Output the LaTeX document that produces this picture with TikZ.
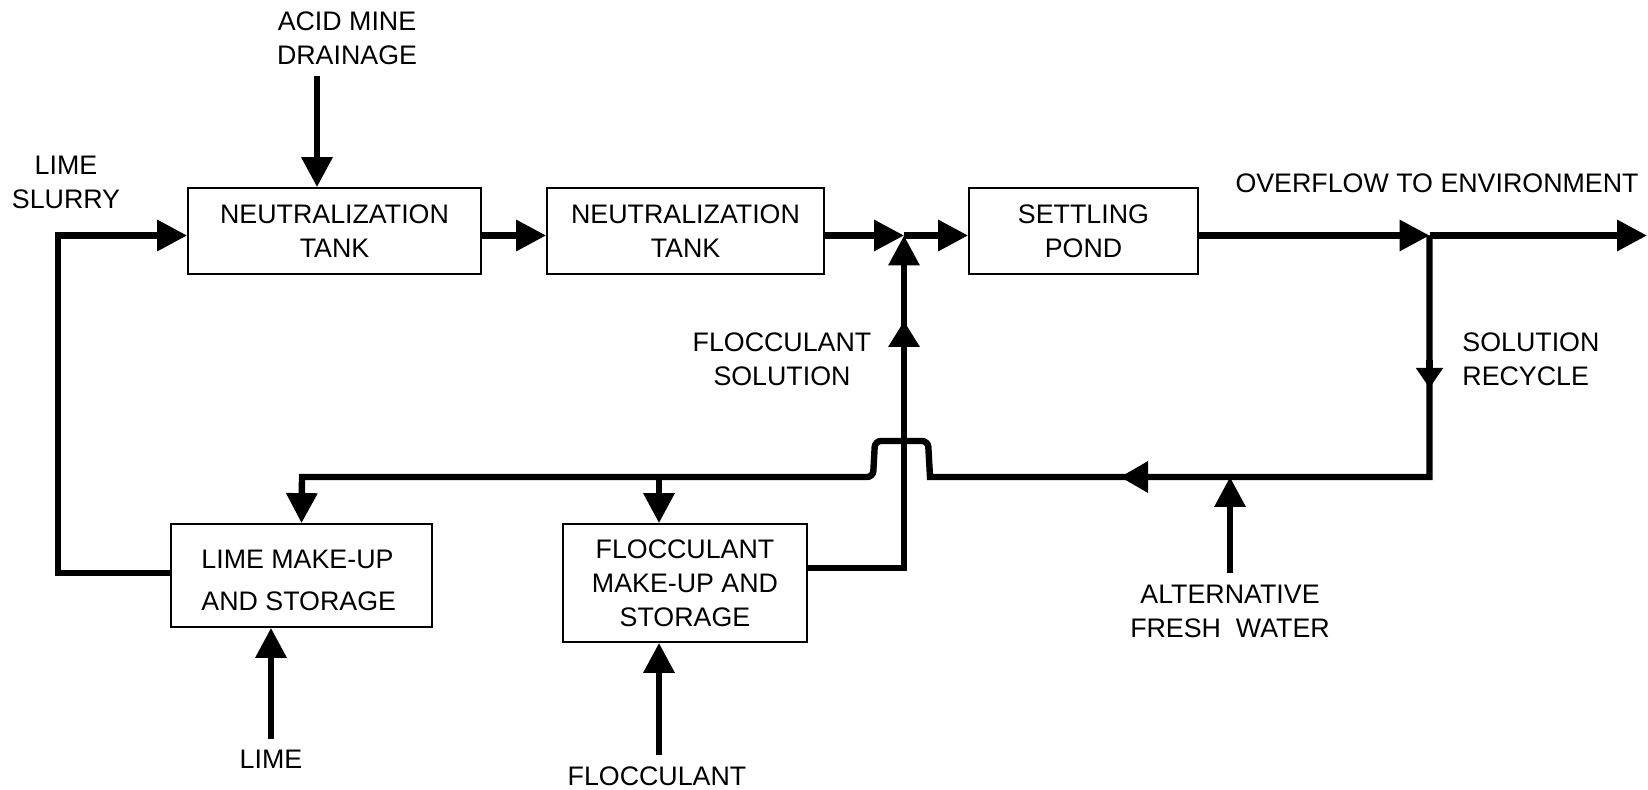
\documentclass[tikz,border=0pt]{standalone}
\usepackage{fontspec}
\setmainfont{Liberation Sans}
\usetikzlibrary{arrows.meta}
\begin{document}
\begin{tikzpicture}[x=0.5pt,y=-0.5pt,
  font=\fontsize{13.4pt}{17pt}\selectfont,
  box/.style={draw, line width=0.9pt, inner sep=0pt, align=center},
  flow/.style={line width=3.2pt},
  arr/.style={-{Triangle[length=15pt,width=15pt]}},
  midarr/.style={-{Triangle[length=13pt,width=15pt]}},
  lbl/.style={align=center, inner sep=0pt},
]
\useasboundingbox (0,0) rectangle (1648,790);

% boxes
\node[box, minimum width=146.5pt, minimum height=43pt] (NT1) at (334.5,231) {NEUTRALIZATION\\TANK};
\node[box, minimum width=138.5pt, minimum height=43pt] (NT2) at (685.5,231) {NEUTRALIZATION\\TANK};
\node[box, minimum width=114.5pt, minimum height=43pt] (Pond) at (1083.5,231) {SETTLING\\POND};
\node[box, minimum width=130.5pt, minimum height=51.5pt] (LMS) at (301.5,575.5) {};
\node[lbl, align=left, anchor=west] (LMStext) at (201,580) {LIME MAKE-UP\\[4pt]AND STORAGE};
\node[box, minimum width=122pt, minimum height=59pt] (FMS) at (685,583) {FLOCCULANT\\MAKE-UP AND\\STORAGE};

% labels
\node[lbl] (acid) at (347,38) {ACID MINE\\DRAINAGE};
\node[lbl] (slurry) at (66,182) {LIME\\SLURRY};
\node[lbl] (overflow) at (1437,183) {OVERFLOW TO ENVIRONMENT};
\node[lbl, align=left, anchor=west] (solrec) at (1462,359) {SOLUTION\\RECYCLE};
\node[lbl] (flocsol) at (782,359) {FLOCCULANT\\SOLUTION};
\node[lbl] (altfw) at (1230,611) {ALTERNATIVE\\FRESH\ \ WATER};
\node[lbl] (lime) at (271,759) {LIME};
\node[lbl] (floc) at (657,776) {FLOCCULANT};

% coordinates
\coordinate (J1) at (904,235.5);
\coordinate (J2) at (1429.5,235.5);
\coordinate (out) at (1647,235.5);
\coordinate (acidtail) at (317,76);
\coordinate (limetail) at (271,739);
\coordinate (floctail) at (659,755);
\coordinate (fwtail) at (1230,573);
\coordinate (B) at (1429.5,477);
\coordinate (Bl) at (302,477);
\coordinate (Bf) at (659,477);
\coordinate (Bw) at (1230,477);

% main flow
\draw[flow,arr] (acidtail) -- (acidtail |- NT1.north);
\draw[flow,arr] (LMS.west |- 0,573) -- (58,573) -- (58,235.5) -- (NT1.west |- J1);
\draw[flow,arr] (NT1.east |- J1) -- (NT2.west |- J1);
\draw[flow,arr] (NT2.east |- J1) -- (J1);
\draw[flow,arr] (J1) -- (Pond.west |- J1);
\draw[flow,arr] (Pond.east |- J1) -- (J2);
\draw[flow,arr] (J2) -- (out);

% recycle
\draw[flow,arr] (J2) -- (B) -- (930,477)
  [rounded corners=3pt] -- (928,441) -- (875,441) -- (873,477) [sharp corners]
  -- (Bl) -- (LMS.north);
\draw[flow,arr] (Bf) -- (Bf |- FMS.north);
\draw[flow,-{Triangle[length=10pt,width=13pt]}] (1429.5,360) -- (1429.5,388);
\draw[flow,-{Triangle[length=14pt,width=15pt]}] (1160,477) -- (1120,477);
\draw[flow,arr] (fwtail) -- (Bw);

% flocculant solution
\draw[flow,arr] (FMS.east |- 0,568) -- (904,568) -- (J1);
\draw[flow,midarr] (904,360) -- (904,321);

% raw inputs
\draw[flow,arr] (limetail) -- (limetail |- LMS.south);
\draw[flow,arr] (floctail) -- (floctail |- FMS.south);
\end{tikzpicture}
\end{document}
